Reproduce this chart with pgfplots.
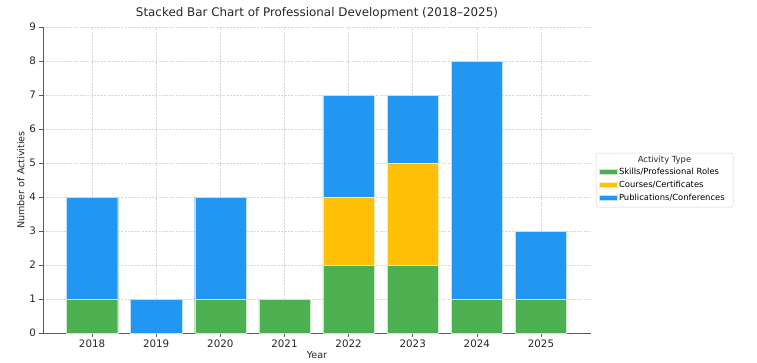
\documentclass[border=0pt]{standalone}
\usepackage{fontspec}
\setmainfont{DejaVu Sans}
\usepackage{pgfplots}
\pgfplotsset{compat=1.18}
\usepackage{pgfplotstable}
\definecolor{cgreen}{HTML}{4CAF50}
\definecolor{corange}{HTML}{FFC107}
\definecolor{cblue}{HTML}{2196F3}
\definecolor{axgray}{HTML}{5A5A5A}
\definecolor{gridgray}{HTML}{D8D8D8}
\pgfplotstableread{
x year skills courses pubs
0 2018 1 0 3
1 2019 0 0 1
2 2020 1 0 3
3 2021 1 0 0
4 2022 2 2 3
5 2023 2 3 2
6 2024 1 0 7
7 2025 1 0 2
}\data
\begin{document}
\begin{tikzpicture}
\useasboundingbox (-43pt,-29pt) rectangle (714pt,333pt);
\draw[gray!35, rounded corners=2pt, line width=0.5pt] (553pt,180pt) rectangle (690pt,126pt);
\node[font=\fontsize{8.4}{10}\selectfont, text=black!85] at (621.5pt,173pt) {Activity Type};
\begin{axis}[
  at={(0,0)}, anchor=south west,
  scale only axis, width=548pt, height=306pt,
  ybar stacked, bar width=0.8,
  xmin=-0.765, xmax=7.78, ymin=0, ymax=9,
  xtick=data, xticklabels={2018,2019,2020,2021,2022,2023,2024,2025},
  ytick={0,1,...,9},
  /pgf/number format/assume math mode=true,
  axis lines*=left,
  axis line style={axgray, line width=0.9pt},
  tick style={axgray, line width=0.6pt},
  tick align=outside, major tick length=3.5pt,
  grid=major,
  major grid style={gridgray, line width=0.5pt, dash pattern=on 2.2pt off 1.2pt},
  ticklabel style={font=\fontsize{10.3}{12}\selectfont, text=black!85},
  title={Stacked Bar Chart of Professional Development (2018–2025)},
  title style={font=\fontsize{11.9}{14}\selectfont, text=black!85, yshift=-2pt},
  xlabel={Year}, ylabel={Number of Activities},
  label style={font=\fontsize{9.6}{11}\selectfont, text=black!85},
  xlabel style={yshift=3pt},
  ylabel style={yshift=-2pt},
  legend style={at={(1.0146,0.5458)}, anchor=north west, draw=none, fill=none,
    font=\fontsize{8.4}{10}\selectfont, row sep=2.2pt, inner sep=0pt,
    nodes={inner sep=1.5pt}},
  legend cell align=left,
  legend image code/.code={\fill[#1] (0pt,-2.5pt) rectangle (18pt,2.5pt);},
]
\addplot[fill=cgreen, draw=white!70!cgreen, line width=0.3pt] table[x=x, y=skills] {\data};
\addlegendentry{Skills/Professional Roles}
\addplot[fill=corange, draw=white!70!corange, line width=0.3pt] table[x=x, y=courses] {\data};
\addlegendentry{Courses/Certificates}
\addplot[fill=cblue, draw=white!70!cblue, line width=0.3pt] table[x=x, y=pubs] {\data};
\addlegendentry{Publications/Conferences}
\end{axis}
\end{tikzpicture}
\end{document}
